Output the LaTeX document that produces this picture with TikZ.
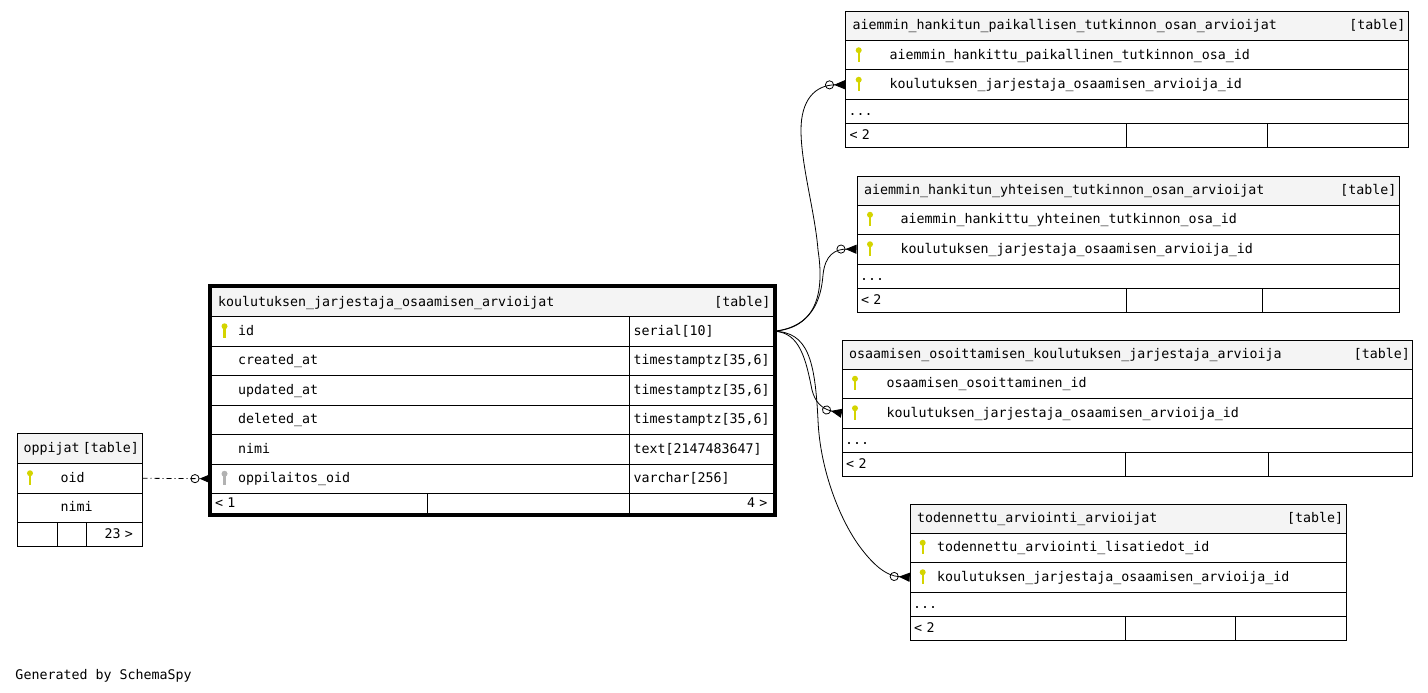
\documentclass[tikz,border=0pt]{standalone}
\usepackage{fontspec}
\usetikzlibrary{arrows.meta,fit}
\newfontfamily\tblfont{DejaVu Sans Mono}
\definecolor{hdrgray}{HTML}{F4F4F4}
\definecolor{keyyel}{RGB}{212,212,0}
\definecolor{keygray}{RGB}{178,178,178}
\begin{document}
\begin{tikzpicture}[x=1pt, y=-1pt, line width=1pt,
  every node/.style={font=\tblfont\fontsize{13.3}{16}\selectfont},
  tcell/.style={draw, anchor=north west, inner ysep=0pt, minimum height=29.5pt, text height=10pt, text depth=2pt, align=left},
  hdr/.style={tcell, fill=hdrgray, minimum height=29pt, inner xsep=3pt},
  subrow/.style={tcell, minimum height=24pt},
  fk/.style={line width=0.8pt, -{Circle[open,length=9pt,width=9pt] Triangle[reversed,length=11pt,width=9pt]}},
  pkey/.pic={\fill[keyyel] (0,-5) circle (3pt); \draw[keyyel, line width=2.4pt] (0,-3) -- (0,6.5);},
  fkey/.pic={\fill[keygray] (0,-5) circle (3pt); \draw[keygray, line width=2.4pt] (0,-3) -- (0,6.5);}]
\useasboundingbox (0,0) rectangle (1428,693);

\node[hdr, text width=556.5pt] (kja-hdr) at (210.5,287) {\hspace*{4pt}koulutuksen\_jarjestaja\_osaamisen\_arvioijat\hfill[table]};
\node[tcell, text width=364.5pt, inner xsep=27pt] (kja-id) at (210.5,316) {id};
\node[tcell, text width=136pt, inner xsep=4pt] (kja-idt) at (629,316) {serial[10]};
\node[tcell, text width=364.5pt, inner xsep=27pt] (kja-cr) at (210.5,345.5) {created\_at};
\node[tcell, text width=136pt, inner xsep=4pt] (kja-crt) at (629,345.5) {timestamptz[35,6]};
\node[tcell, text width=364.5pt, inner xsep=27pt] (kja-up) at (210.5,375) {updated\_at};
\node[tcell, text width=136pt, inner xsep=4pt] (kja-upt) at (629,375) {timestamptz[35,6]};
\node[tcell, text width=364.5pt, inner xsep=27pt] (kja-de) at (210.5,404.5) {deleted\_at};
\node[tcell, text width=136pt, inner xsep=4pt] (kja-det) at (629,404.5) {timestamptz[35,6]};
\node[tcell, text width=364.5pt, inner xsep=27pt] (kja-ni) at (210.5,434) {nimi};
\node[tcell, text width=136pt, inner xsep=4pt] (kja-nit) at (629,434) {text[2147483647]};
\node[tcell, text width=364.5pt, inner xsep=27pt] (kja-opp) at (210.5,463.5) {oppilaitos\_oid};
\node[tcell, text width=136pt, inner xsep=4pt] (kja-oppt) at (629,463.5) {varchar[256]};
\node[tcell, minimum height=20pt, text width=208.5pt, inner xsep=4pt] (kja-f1) at (210.5,493) {<~1};
\node[tcell, minimum height=20pt, minimum width=202pt] (kja-f2) at (427,493) {};
\node[tcell, minimum height=20pt, text width=132pt, inner xsep=6pt, align=right] (kja-f3) at (629,493) {4~>};
\node[draw, line width=3pt, fit=(kja-hdr)(kja-f3), inner sep=1.5pt] (kja) {};
\pic at ([xshift=14pt]kja-id.west) {pkey};
\pic at ([xshift=14pt]kja-opp.west) {fkey};

\node[hdr, minimum height=30pt, text width=118.5pt] (opp-hdr) at (17,433) {\hspace*{3pt}oppijat\hfill[table]};
\node[tcell, text width=38.5pt, inner xsep=43pt] (opp-oid) at (17,463) {oid};
\node[tcell, text width=38.5pt, inner xsep=43pt] (opp-nimi) at (17,492.5) {nimi};
\node[subrow, minimum width=39.7pt] (opp-f1) at (17,522) {};
\node[subrow, minimum width=29pt] (opp-f2) at (56.7,522) {};
\node[subrow, text width=37.8pt, inner xsep=9pt, align=right] (opp-f3) at (85.7,522) {23~>};
\pic at ([xshift=13pt]opp-oid.west) {pkey};

\node[hdr, text width=557pt] (ahp-hdr) at (845,11) {\hspace*{4pt}aiemmin\_hankitun\_paikallisen\_tutkinnon\_osan\_arvioijat\hfill[table]};
\node[tcell, text width=475pt, inner xsep=44pt] (ahp-pk) at (845,40) {aiemmin\_hankittu\_paikallinen\_tutkinnon\_osa\_id};
\node[tcell, text width=475pt, inner xsep=44pt] (ahp-fk) at (845,69.5) {koulutuksen\_jarjestaja\_osaamisen\_arvioija\_id};
\node[subrow, text width=557pt, inner xsep=3pt] (ahp-more) at (845,99) {...};
\node[subrow, text width=272.7pt, inner xsep=4pt] (ahp-f1) at (845,123) {<~2};
\node[subrow, minimum width=141.6pt] (ahp-f2) at (1125.7,123) {};
\node[subrow, minimum width=140.7pt] (ahp-f3) at (1267.3,123) {};
\pic at ([xshift=13.7pt]ahp-pk.west) {pkey};
\pic at ([xshift=13.7pt]ahp-fk.west) {pkey};

\node[hdr, text width=536.5pt] (ahy-hdr) at (856.5,175.5) {\hspace*{4pt}aiemmin\_hankitun\_yhteisen\_tutkinnon\_osan\_arvioijat\hfill[table]};
\node[tcell, text width=455.5pt, inner xsep=43.5pt] (ahy-pk) at (856.5,204.5) {aiemmin\_hankittu\_yhteinen\_tutkinnon\_osa\_id};
\node[tcell, text width=455.5pt, inner xsep=43.5pt] (ahy-fk) at (856.5,234) {koulutuksen\_jarjestaja\_osaamisen\_arvioija\_id};
\node[subrow, text width=536.5pt, inner xsep=3pt] (ahy-more) at (856.5,263.5) {...};
\node[subrow, text width=261.2pt, inner xsep=4pt] (ahy-f1) at (856.5,287.5) {<~2};
\node[subrow, minimum width=136pt] (ahy-f2) at (1125.7,287.5) {};
\node[subrow, minimum width=137.3pt] (ahy-f3) at (1261.7,287.5) {};
\pic at ([xshift=13.5pt]ahy-pk.west) {pkey};
\pic at ([xshift=13.5pt]ahy-fk.west) {pkey};

\node[hdr, text width=564.6pt] (ook-hdr) at (841.7,339.5) {\hspace*{4pt}osaamisen\_osoittamisen\_koulutuksen\_jarjestaja\_arvioija\hfill[table]};
\node[tcell, text width=482pt, inner xsep=44.3pt] (ook-pk) at (841.7,368.5) {osaamisen\_osoittaminen\_id};
\node[tcell, text width=482pt, inner xsep=44.3pt] (ook-fk) at (841.7,398) {koulutuksen\_jarjestaja\_osaamisen\_arvioija\_id};
\node[subrow, text width=564.6pt, inner xsep=3pt] (ook-more) at (841.7,427.5) {...};
\node[subrow, text width=275.6pt, inner xsep=4pt] (ook-f1) at (841.7,451.5) {<~2};
\node[subrow, minimum width=143pt] (ook-f2) at (1125.3,451.5) {};
\node[subrow, minimum width=144pt] (ook-f3) at (1268.3,451.5) {};
\pic at ([xshift=13.3pt]ook-pk.west) {pkey};
\pic at ([xshift=13.3pt]ook-fk.west) {pkey};

\node[hdr, text width=430pt] (taa-hdr) at (909.7,503.5) {\hspace*{4pt}todennettu\_arviointi\_arvioijat\hfill[table]};
\node[tcell, text width=382pt, inner xsep=27pt] (taa-pk) at (909.7,532.5) {todennettu\_arviointi\_lisatiedot\_id};
\node[tcell, text width=382pt, inner xsep=27pt] (taa-fk) at (909.7,562) {koulutuksen\_jarjestaja\_osaamisen\_arvioija\_id};
\node[subrow, text width=430pt, inner xsep=3pt] (taa-more) at (909.7,591.5) {...};
\node[subrow, text width=207.6pt, inner xsep=4pt] (taa-f1) at (909.7,615.5) {<~2};
\node[subrow, minimum width=110pt] (taa-f2) at (1125.3,615.5) {};
\node[subrow, minimum width=110.4pt] (taa-f3) at (1235.3,615.5) {};
\pic at ([xshift=13pt]taa-pk.west) {pkey};
\pic at ([xshift=13pt]taa-fk.west) {pkey};

\draw[fk, dash pattern=on 5pt off 3pt on 1pt off 3pt] (opp-oid.east) -- (kja-opp.west);
\draw[fk] (kja-idt.east) .. controls (815,328) and (825,295) .. (818,250) .. controls (815,212) and (801,165) .. (801,130) .. controls (801,100) and (815,85) .. (ahp-fk.west);
\draw[fk] (kja-idt.east) .. controls (812,327) and (821,300) .. (823,275) .. controls (825,255) and (835,249) .. (ahy-fk.west);
\draw[fk] (kja-idt.east) .. controls (800,332) and (806,360) .. (812,390) .. controls (815,402) and (822,409) .. (ook-fk.west);
\draw[fk] (kja-idt.east) .. controls (808,332) and (815,360) .. (818,420) .. controls (820,470) and (840,520) .. (860,547) .. controls (872,563) and (885,576) .. (taa-fk.west);

\node[anchor=base west, inner sep=0pt] (gen) at (15,679.5) {Generated by SchemaSpy};
\end{tikzpicture}
\end{document}
